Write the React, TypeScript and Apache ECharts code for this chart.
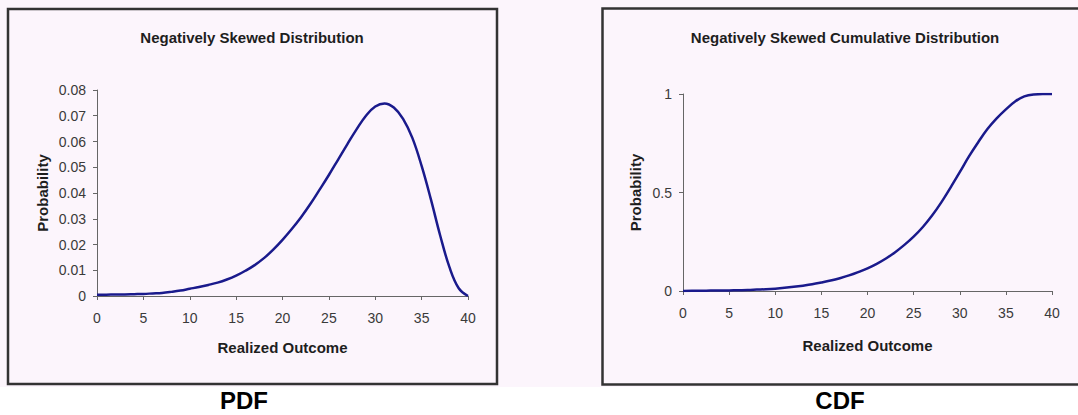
import React, { useEffect, useRef } from "react";
import * as echarts from "echarts";

const X_VALUES = [0, 1, 2, 3, 4, 5, 6, 7, 8, 9, 10, 11, 12, 13, 14, 15, 16, 17, 18, 19, 20, 21, 22, 23, 24, 25, 26, 27, 28, 29, 30, 31, 32, 33, 34, 35, 36, 37, 38, 39, 40];

const PDF_VALUES = [
  0.0005, 0.0005, 0.0006, 0.0006, 0.0007, 0.0008, 0.001, 0.0012, 0.0016, 0.0021,
  0.0028, 0.0035, 0.0043, 0.0052, 0.0064, 0.0079, 0.0098, 0.012, 0.0147, 0.018,
  0.0218, 0.026, 0.0306, 0.0357, 0.0413, 0.047, 0.053, 0.059, 0.0648, 0.07,
  0.0736, 0.0748, 0.0732, 0.0688, 0.0614, 0.0505, 0.0375, 0.0235, 0.0112, 0.003, 0.0,
];

const CDF_VALUES = [
  0.0, 0.001, 0.001, 0.002, 0.002, 0.003, 0.004, 0.005, 0.007, 0.009,
  0.012, 0.016, 0.021, 0.027, 0.034, 0.043, 0.053, 0.065, 0.079, 0.096,
  0.115, 0.138, 0.165, 0.197, 0.234, 0.276, 0.325, 0.383, 0.45, 0.525,
  0.603, 0.683, 0.755, 0.822, 0.876, 0.922, 0.962, 0.988, 0.998, 1.0, 1.0,
];

const X_TICKS = { min: 0, max: 40, interval: 5 };
const PDF_Y_TICKS = { min: 0, max: 0.08, interval: 0.01 };
const CDF_Y_TICKS = { min: 0, max: 1, interval: 0.5 };

const TITLES = ["Negatively Skewed Distribution", "Negatively Skewed Cumulative Distribution"];
const CAPTIONS = ["PDF", "CDF"];
const X_NAME = "Realized Outcome";
const Y_NAME = "Probability";

const FONT = "'Liberation Sans', Arial, sans-serif";
const LINE_COLOR = "#1a1a8c";
const AXIS_COLOR = "#666666";
const LABEL_COLOR = "#3a3a3a";
const BG = "#fcf5fc";

export default function App() {
  const ref = useRef<HTMLDivElement>(null);

  useEffect(() => {
    if (!ref.current) return;
    const chart = echarts.init(ref.current, null, { renderer: "svg" });

    const axisCommon = {
      type: "value",
      axisLine: { show: true, lineStyle: { color: AXIS_COLOR, width: 1 } },
      axisTick: { show: true, length: 4, lineStyle: { color: AXIS_COLOR } },
      splitLine: { show: false },
      axisLabel: { color: LABEL_COLOR, fontSize: 14, fontFamily: FONT },
      nameLocation: "middle",
      nameTextStyle: { fontSize: 15, fontWeight: "bold", color: "#1e1e1e", fontFamily: FONT },
    };

    const pdfData = X_VALUES.map((x, i) => [x, PDF_VALUES[i]]);
    const cdfData = X_VALUES.map((x, i) => [x, CDF_VALUES[i]]);

    const captionStyle = { fontSize: 24, lineHeight: 24, fontWeight: "bold", color: "#000000", fontFamily: FONT };

    chart.setOption({
      animation: false,
      backgroundColor: "#ffffff",
      title: [
        {
          text: TITLES[0],
          left: 252,
          top: 30,
          padding: 0,
          textAlign: "center",
          textStyle: { fontSize: 15, fontWeight: "bold", color: "#1e1e1e", fontFamily: FONT },
        },
        {
          text: TITLES[1],
          left: 845,
          top: 30,
          padding: 0,
          textAlign: "center",
          textStyle: { fontSize: 15, fontWeight: "bold", color: "#1e1e1e", fontFamily: FONT },
        },
        {
          text: CAPTIONS[0],
          left: 244,
          top: 388,
          padding: 0,
          textAlign: "center",
          textStyle: captionStyle,
        },
        {
          text: CAPTIONS[1],
          left: 840,
          top: 388,
          padding: 0,
          textAlign: "center",
          textStyle: captionStyle,
        },
      ],
      graphic: [
        { type: "rect", z: -10, silent: true, shape: { x: 0, y: 0, width: 1078, height: 387 }, style: { fill: BG } },
        { type: "rect", z: -5, silent: true, shape: { x: 8, y: 9, width: 489, height: 375 }, style: { fill: "none", stroke: "#333333", lineWidth: 2.5 } },
        { type: "rect", z: -5, silent: true, shape: { x: 602.5, y: 8.5, width: 500, height: 376 }, style: { fill: "none", stroke: "#333333", lineWidth: 2.5 } },
      ],
      grid: [
        { left: 97, top: 90, width: 371, height: 206 },
        { left: 683, top: 94, width: 369, height: 197 },
      ],
      xAxis: [
        { ...axisCommon, gridIndex: 0, ...X_TICKS, name: X_NAME, nameGap: 44, axisLabel: { ...axisCommon.axisLabel, margin: 15 } },
        { ...axisCommon, gridIndex: 1, ...X_TICKS, name: X_NAME, nameGap: 47, axisLabel: { ...axisCommon.axisLabel, margin: 15 } },
      ],
      yAxis: [
        {
          ...axisCommon,
          gridIndex: 0,
          ...PDF_Y_TICKS,
          name: Y_NAME,
          nameGap: 47,
          axisLabel: {
            ...axisCommon.axisLabel,
            margin: 11,
            formatter: (v: number) => (v === 0 ? "0" : v.toFixed(2)),
          },
        },
        {
          ...axisCommon,
          gridIndex: 1,
          ...CDF_Y_TICKS,
          name: Y_NAME,
          nameGap: 40,
          axisLabel: { ...axisCommon.axisLabel, margin: 11 },
        },
      ],
      series: [
        {
          type: "line",
          xAxisIndex: 0,
          yAxisIndex: 0,
          data: pdfData,
          smooth: 0.4,
          showSymbol: false,
          lineStyle: { color: LINE_COLOR, width: 2.5 },
        },
        {
          type: "line",
          xAxisIndex: 1,
          yAxisIndex: 1,
          data: cdfData,
          smooth: 0.4,
          showSymbol: false,
          lineStyle: { color: LINE_COLOR, width: 2.5 },
        },
      ],
    });

    return () => chart.dispose();
  }, []);

  return (
    <div
      ref={ref}
      style={{ position: "fixed", left: 0, top: 0, width: 1078, height: 415 }}
    />
  );
}
